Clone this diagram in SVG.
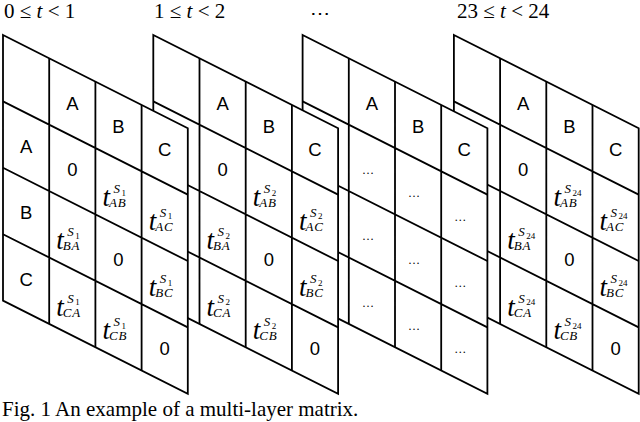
<svg xmlns="http://www.w3.org/2000/svg" width="640" height="422" viewBox="0 0 640 422">
<style>
.frame{fill:#fff;stroke:#000;stroke-width:1.8;stroke-linejoin:miter}
.ln{stroke:#000;stroke-width:1.8;fill:none}
.lb{font-family:"Liberation Sans",Arial,sans-serif;font-size:18.5px;text-anchor:middle;fill:#000}
.t{font-family:"Liberation Serif","Times New Roman",serif;font-style:italic;font-size:27px;fill:#000}
.s{font-family:"Liberation Serif","Times New Roman",serif;font-style:italic;font-size:13px;letter-spacing:0.8px;fill:#000}
.d{font-family:"Liberation Serif","Times New Roman",serif;font-size:9px;fill:#000}
.dots{font-family:"Liberation Serif","Times New Roman",serif;font-size:12px;text-anchor:middle;fill:#000}
.hd{font-family:"Liberation Serif","Times New Roman",serif;font-size:21px;fill:#000}
.it{font-style:italic}
</style>
<defs>
<g id="grid">
<polygon class="frame" points="3,35 187.8,128.2 187.8,393.8 3,300.6"/>
<path class="ln" d="M49.2,58.3V323.9M95.4,81.6V347.2M141.6,104.9V370.5M3,101.4L187.8,194.6M3,167.8L187.8,261M3,234.2L187.8,327.4"/>
<text class="lb" x="72.3" y="109.65">A</text>
<text class="lb" x="118.5" y="132.95">B</text>
<text class="lb" x="164.7" y="156.25">C</text>
<text class="lb" x="26.1" y="152.75">A</text>
<text class="lb" x="26.1" y="219.15">B</text>
<text class="lb" x="26.1" y="285.55">C</text>
</g>
<g id="zeros">
<text class="lb" x="72.3" y="176.05">0</text>
<text class="lb" x="118.5" y="265.75">0</text>
<text class="lb" x="164.7" y="355.45">0</text>
</g>
<g id="tAB"><text class="t" x="102.5" y="206.35">t</text><text class="s" x="113.5" y="193.35">S</text><text class="s" x="109" y="207.35">AB</text></g>
<g id="tAC"><text class="t" x="148.7" y="229.65">t</text><text class="s" x="159.7" y="216.65">S</text><text class="s" x="155.2" y="230.65">AC</text></g>
<g id="tBA"><text class="t" x="56.3" y="249.45">t</text><text class="s" x="67.3" y="236.45">S</text><text class="s" x="62.8" y="250.45">BA</text></g>
<g id="tBC"><text class="t" x="148.7" y="296.05">t</text><text class="s" x="159.7" y="283.05">S</text><text class="s" x="155.2" y="297.05">BC</text></g>
<g id="tCA"><text class="t" x="56.3" y="315.85">t</text><text class="s" x="67.3" y="302.85">S</text><text class="s" x="62.8" y="316.85">CA</text></g>
<g id="tCB"><text class="t" x="102.5" y="339.15">t</text><text class="s" x="113.5" y="326.15">S</text><text class="s" x="109" y="340.15">CB</text></g>
<g id="tall"><use href="#tAB"/><use href="#tAC"/><use href="#tBA"/><use href="#tBC"/><use href="#tCA"/><use href="#tCB"/></g>
</defs>

<g id="layer24" transform="translate(450.9,0)">
<use href="#grid"/><use href="#zeros"/><use href="#tall"/>
<text class="d" x="121.5" y="195.85">24</text>
<text class="d" x="167.7" y="219.15">24</text>
<text class="d" x="75.3" y="238.95">24</text>
<text class="d" x="167.7" y="285.55">24</text>
<text class="d" x="75.3" y="305.35">24</text>
<text class="d" x="121.5" y="328.65">24</text>
</g>

<g id="layerN" transform="translate(299.6,0)">
<use href="#grid"/>
<text class="dots" x="68.3" y="174">…</text>
<text class="dots" x="68.3" y="240.4">…</text>
<text class="dots" x="68.3" y="306.8">…</text>
<text class="dots" x="114.5" y="197.3">…</text>
<text class="dots" x="114.5" y="263.7">…</text>
<text class="dots" x="114.5" y="330.1">…</text>
<text class="dots" x="160.7" y="220.6">…</text>
<text class="dots" x="160.7" y="287">…</text>
<text class="dots" x="160.7" y="353.4">…</text>
</g>

<g id="layer2" transform="translate(150.3,0)">
<use href="#grid"/><use href="#zeros"/><use href="#tall"/>
<text class="d" x="121.5" y="195.85">2</text>
<text class="d" x="167.7" y="219.15">2</text>
<text class="d" x="75.3" y="238.95">2</text>
<text class="d" x="167.7" y="285.55">2</text>
<text class="d" x="75.3" y="305.35">2</text>
<text class="d" x="121.5" y="328.65">2</text>
</g>

<g id="layer1">
<use href="#grid"/><use href="#zeros"/><use href="#tall"/>
<text class="d" x="121.5" y="195.85">1</text>
<text class="d" x="167.7" y="219.15">1</text>
<text class="d" x="75.3" y="238.95">1</text>
<text class="d" x="167.7" y="285.55">1</text>
<text class="d" x="75.3" y="305.35">1</text>
<text class="d" x="121.5" y="328.65">1</text>
</g>

<g id="labels">
<text class="hd" x="4" y="18">0 ≤ <tspan class="it">t</tspan> &lt; 1</text>
<text class="hd" x="154" y="18">1 ≤ <tspan class="it">t</tspan> &lt; 2</text>
<text class="hd" x="320" y="20" text-anchor="middle" style="font-family:'DejaVu Serif',serif;font-size:20px">⋯</text>
<text class="hd" x="457" y="18">23 ≤ <tspan class="it">t</tspan> &lt; 24</text>
<text class="hd" x="2" y="416">Fig. 1 An example of a multi-layer matrix.</text>
</g>
</svg>
